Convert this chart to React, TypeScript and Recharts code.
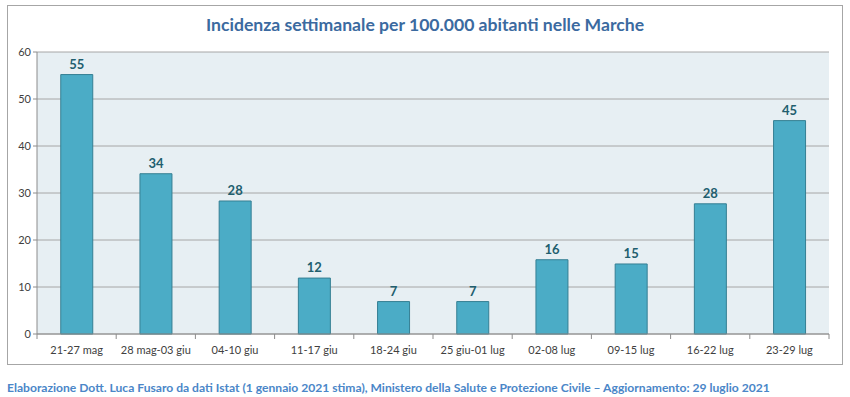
import { BarChart, Bar, XAxis, YAxis, CartesianGrid, LabelList } from "recharts";

const weeks = [
  "21-27 mag",
  "28 mag-03 giu",
  "04-10 giu",
  "11-17 giu",
  "18-24 giu",
  "25 giu-01 lug",
  "02-08 lug",
  "09-15 lug",
  "16-22 lug",
  "23-29 lug",
];
const incidence = [55.2, 34.1, 28.3, 11.9, 6.9, 6.9, 15.8, 14.9, 27.7, 45.4];
const yTicks = [0, 10, 20, 30, 40, 50, 60];

const data = weeks.map((week, i) => ({ week, value: incidence[i] }));

const FONT = "Lato, 'Open Sans', sans-serif";

function WeekTick(props: any) {
  const { x, y, payload, index } = props;
  const half = payload.offset ?? 0;
  return (
    <g>
      <line x1={x - half} x2={x - half} y1={y - 8} y2={y - 3} stroke="#8c8c8c" />
      {index === weeks.length - 1 && (
        <line x1={x + half} x2={x + half} y1={y - 8} y2={y - 3} stroke="#8c8c8c" />
      )}
      <text x={x} y={y + 12} textAnchor="middle" fontSize={11} fill="#404040" fontFamily={FONT}>
        {payload.value}
      </text>
    </g>
  );
}

export default function App() {
  return (
    <div style={{ position: "absolute", left: 0, top: 0, width: 850, height: 397, background: "#fff", fontFamily: FONT }}>
      <div
        style={{
          position: "absolute",
          left: 7,
          top: 5,
          width: 834,
          height: 358,
          border: "1px solid #a6a6a6",
        }}
      />
      <div
        style={{
          position: "absolute",
          left: 0,
          top: 14,
          width: 850,
          textAlign: "center",
          color: "#3b6aa0",
          fontWeight: 700,
          fontSize: 17.6,
        }}
      >
        Incidenza settimanale per 100.000 abitanti nelle Marche
      </div>
      <div style={{ position: "absolute", left: 0, top: 0 }}>
        <BarChart
          width={850}
          height={397}
          data={data}
          margin={{ top: 52, right: 21, left: 0, bottom: 33 }}
          barCategoryGap="30%"
        >
          <CartesianGrid vertical={false} stroke="#a6a6a6" fill="#e7eff3" />
          <XAxis
            dataKey="week"
            interval={0}
            tickLine={false}
            axisLine={{ stroke: "#8c8c8c" }}
            tick={<WeekTick />}
            height={30}
          />
          <YAxis
            domain={[0, 60]}
            ticks={yTicks}
            width={37}
            axisLine={{ stroke: "#8c8c8c" }}
            tickLine={{ stroke: "#8c8c8c" }}
            tickSize={4}
            tick={{ fontSize: 11, fill: "#404040", fontFamily: FONT }}
          />
          <Bar dataKey="value" fill="#4bacc6" stroke="#357f93" isAnimationActive={false}>
            <LabelList
              dataKey="value"
              position="top"
              offset={6}
              formatter={(v: any) => Math.round(Number(v))}
              style={{ fill: "#215e6e", fontWeight: 700, fontSize: 13, fontFamily: FONT }}
            />
          </Bar>
        </BarChart>
      </div>
      <div
        style={{
          position: "absolute",
          left: 7,
          top: 380,
          color: "#4a86c8",
          fontWeight: 700,
          fontSize: 12.1,
          whiteSpace: "nowrap",
        }}
      >
        Elaborazione Dott. Luca Fusaro da dati Istat (1 gennaio 2021 stima), Ministero della Salute e Protezione Civile – Aggiornamento: 29 luglio 2021
      </div>
    </div>
  );
}
